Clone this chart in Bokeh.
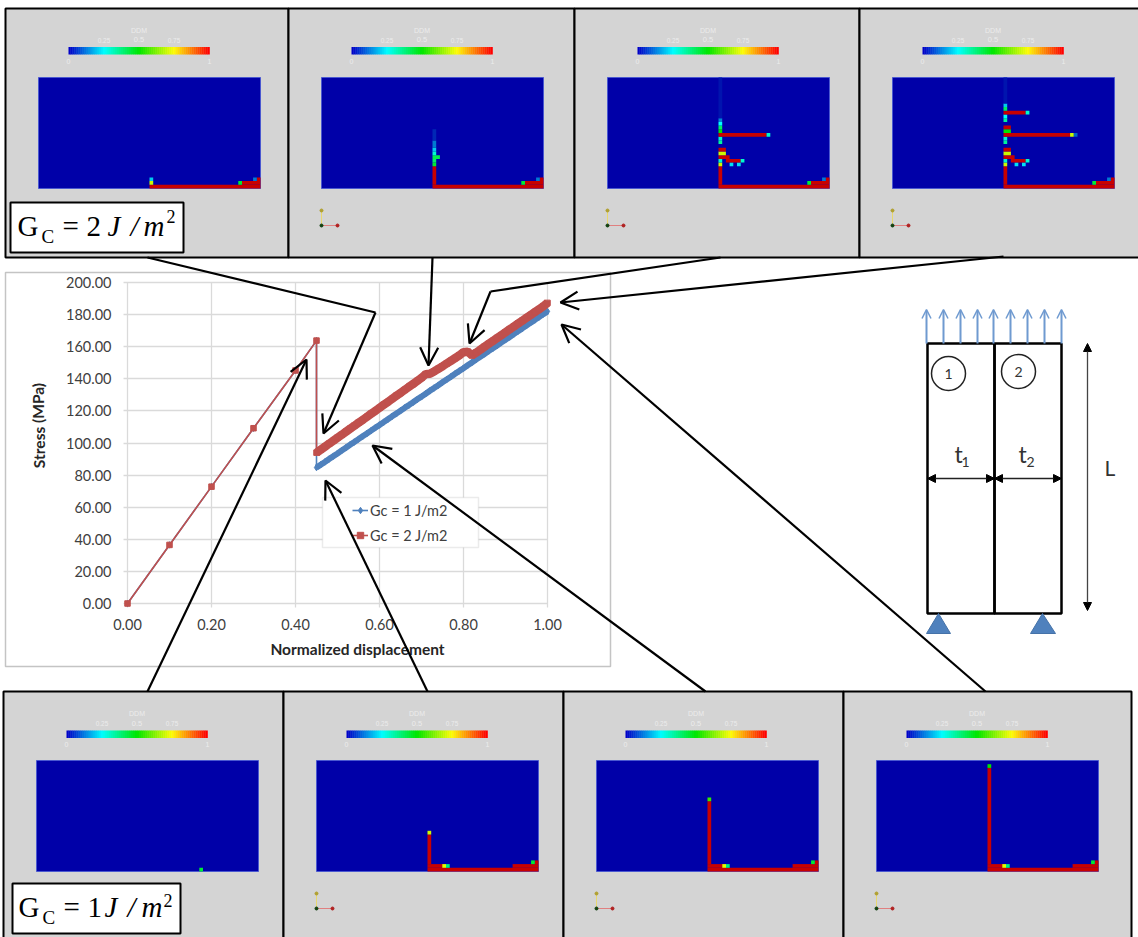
from bokeh.plotting import figure
from bokeh.embed import file_html
from bokeh.resources import INLINE
from bokeh.models import (Range1d, Arrow, OpenHead, NormalHead, Legend, LegendItem,
                          FixedTicker, NumeralTickFormatter, BoxAnnotation)
from bokeh.core.properties import value

# ---------------- chart data ----------------
x_pre = [0.00, 0.10, 0.20, 0.30, 0.40, 0.45]
y_pre = [0.00, 36.5, 72.8, 109.2, 145.2, 163.8]
x_post = [0.45, 0.46, 0.47, 0.48, 0.49, 0.50, 0.51, 0.52, 0.53, 0.54, 0.55, 0.56, 0.57, 0.58,
          0.59, 0.60, 0.61, 0.62, 0.63, 0.64, 0.65, 0.66, 0.67, 0.68, 0.69, 0.70, 0.71, 0.72,
          0.73, 0.74, 0.75, 0.76, 0.77, 0.78, 0.79, 0.80, 0.81, 0.82, 0.83, 0.84, 0.85, 0.86,
          0.87, 0.88, 0.89, 0.90, 0.91, 0.92, 0.93, 0.94, 0.95, 0.96, 0.97, 0.98, 0.99, 1.00]
gc1_post = [84.7, 86.5, 88.2, 90.0, 91.8, 93.5, 95.3, 97.1, 98.9, 100.6, 102.4, 104.2, 105.9, 107.7,
            109.5, 111.2, 113.0, 114.8, 116.6, 118.3, 120.1, 121.9, 123.6, 125.4, 127.2, 128.9, 130.7, 132.5,
            134.3, 136.0, 137.8, 139.6, 141.3, 143.1, 144.9, 146.6, 148.4, 150.2, 152.0, 153.7, 155.5, 157.3,
            159.0, 160.8, 162.6, 164.3, 166.1, 167.9, 169.7, 171.4, 173.2, 175.0, 176.7, 178.5, 180.3, 182.0]
gc2_post = [94.0, 95.8, 97.7, 99.6, 101.4, 103.3, 105.1, 107.0, 108.9, 110.7, 112.6, 114.4, 116.3, 118.2,
            120.0, 121.9, 123.8, 125.6, 127.5, 129.4, 131.2, 133.1, 135.0, 136.8, 138.7, 140.6, 142.9, 143.2,
            144.6, 146.2, 147.8, 149.5, 151.2, 152.9, 154.6, 156.6, 156.9, 154.6, 156.3, 158.1, 160.0, 161.8,
            163.6, 165.4, 167.2, 169.0, 170.8, 172.6, 174.4, 176.2, 178.0, 179.8, 181.6, 183.4, 185.2, 187.3]
x_ticks = [0.0, 0.2, 0.4, 0.6, 0.8, 1.0]
y_ticks = [0, 20, 40, 60, 80, 100, 120, 140, 160, 180, 200]
series_names = ["Gc = 1 J/m2", "Gc = 2 J/m2"]
x_title = "Normalized displacement"
y_title = "Stress (MPa)"

# ---------------- damage maps: (col0, col1, row0, row1, damage) blocks on a 60x30 grid ----------------
bottom_edge_top = [(30, 59, 0, 0, 1), (55, 59, 1, 1, 1), (54, 54, 1, 1, .45), (59, 59, 2, 2, 1), (58, 58, 2, 2, .12)]
bottom_edge_low = [(30, 59, 0, 0, 1), (30, 34, 1, 1, 1), (34, 34, 1, 1, .72), (35, 35, 1, 1, .38),
                   (53, 59, 1, 1, 1), (59, 59, 2, 2, 1), (58, 58, 2, 2, .45)]
ladder = [(30, 30, 1, 5, 1), (30, 30, 6, 6, .7), (30, 30, 7, 7, .3), (33, 33, 6, 6, .22), (35, 35, 6, 6, .22),
          (32, 35, 7, 7, 1), (36, 36, 7, 7, .3), (30, 32, 8, 8, 1), (30, 31, 9, 9, .7), (30, 31, 10, 10, 1),
          (30, 30, 12, 12, .35), (30, 30, 13, 13, .3)]
top_maps = [
    bottom_edge_top + [(30, 30, 1, 1, .7), (30, 30, 2, 2, .2)],
    bottom_edge_top + [(30, 30, 1, 5, 1), (30, 30, 6, 6, .45), (30, 30, 7, 7, .4), (30, 31, 8, 8, .42), (30, 30, 9, 9, .3),
                       (30, 30, 10, 10, .2), (30, 30, 11, 12, .12), (30, 30, 13, 15, .04)],
    bottom_edge_top + ladder + [(30, 42, 14, 14, 1), (43, 43, 14, 14, .3), (30, 30, 15, 15, .5), (30, 30, 16, 16, .4),
                                (30, 30, 17, 17, .25), (30, 30, 18, 18, .13), (30, 30, 19, 29, .02)],
    bottom_edge_top + ladder + [(30, 47, 14, 14, 1), (48, 48, 14, 14, .7), (49, 49, 14, 14, .1), (30, 31, 15, 15, .5),
                                (30, 31, 16, 16, 1), (30, 30, 18, 18, .35), (30, 30, 19, 19, .25),
                                (30, 35, 20, 20, 1), (36, 36, 20, 20, .3), (30, 30, 21, 21, .4),
                                (30, 30, 22, 22, .2), (30, 30, 23, 29, .02)],
]
low_maps = [
    [(44, 44, 0, 0, .45)],
    bottom_edge_low + [(30, 30, 2, 9, 1), (30, 30, 10, 10, .7)],
    bottom_edge_low + [(30, 30, 2, 18, 1), (30, 30, 19, 19, .55)],
    bottom_edge_low + [(30, 30, 2, 27, 1), (30, 30, 28, 28, .5)],
]
colorbar_ticks = ["0", "0.25", "0.5", "0.75", "1"]
colorbar_title = "DDM"

W, H = 1138, 937
GREY, NAVY = "#d4d4d4", "#0000a8"


def jet(d, blue=(0, 0, 200), red=(255, 0, 0)):
    stops = [blue, (0, 255, 255), (0, 230, 0), (255, 255, 0), red]
    t = min(d, .9999) * 4
    i = int(t)
    f = t - i
    a, b = stops[i], stops[i + 1]
    return "#%02x%02x%02x" % tuple(int(a[k] + (b[k] - a[k]) * f) for k in range(3))


def cell_colour(d):
    if d >= 1:
        return "#c80000"
    return jet(d, blue=(0, 0, 168))


def page_figure():
    f = figure(width=W, height=H, x_range=Range1d(0, W), y_range=Range1d(H, 0),
               x_axis_location=None, y_axis_location=None, toolbar_location=None,
               output_backend="svg", min_border=0, outline_line_color=None,
               styles={"position": "absolute", "left": "0px", "top": "0px"})
    f.grid.visible = False
    f.background_fill_color = None
    f.border_fill_color = None
    return f


# ---------------- background figure: panels, chart frame, schematic ----------------
bg = page_figure()
bg.background_fill_color = "white"
bg.border_fill_color = "white"


def label(f, x, y, text, size, color="black", font="Liberation Serif", style="normal", align="left", angle=0):
    f.text([x], [y], text=[text], text_font=value(font), text_font_size=f"{size}px", text_color=color,
           text_font_style=style, text_align=align, text_baseline="middle", angle=angle)


def panel(x0, x1, y0, y1, rect_x, rect_top, bar_x, bar_top, cells, triad):
    bg.quad(left=[x0], right=[x1], top=[y0], bottom=[y1], fill_color=GREY, line_color="black", line_width=2)
    cw = 3.7
    bg.quad(left=[rect_x], right=[rect_x + 222], top=[rect_top], bottom=[rect_top + 111],
            fill_color=NAVY, line_color="#4a58d0", line_width=1)
    L, R, T, B, C = [], [], [], [], []
    for c0, c1, r0, r1, d in cells:
        L.append(rect_x + c0 * cw)
        R.append(rect_x + (c1 + 1) * cw)
        B.append(rect_top + 111 - r0 * cw)
        T.append(rect_top + 111 - (r1 + 1) * cw)
        C.append(cell_colour(d))
    bg.quad(left=L, right=R, top=T, bottom=B, fill_color=C, line_color=None)
    n = 70
    bw = 141 / n
    bg.quad(left=[bar_x + i * bw for i in range(n)], right=[bar_x + (i + 1) * bw + .3 for i in range(n)],
            top=[bar_top] * n, bottom=[bar_top + 7.5] * n,
            fill_color=[jet(i / (n - 1)) for i in range(n)], line_color=None)
    c = "#ececec"
    mid = bar_x + 70.5
    label(bg, mid, bar_top - 17, colorbar_title, 7, c, "Liberation Sans", align="center")
    label(bg, mid - 35, bar_top - 7, colorbar_ticks[1], 6.5, c, "Liberation Sans", align="center")
    label(bg, mid, bar_top - 7.5, colorbar_ticks[2], 7.5, c, "Liberation Sans", align="center")
    label(bg, mid + 35, bar_top - 7, colorbar_ticks[3], 6.5, c, "Liberation Sans", align="center")
    label(bg, bar_x, bar_top + 14, colorbar_ticks[0], 7, c, "Liberation Sans", align="center")
    label(bg, bar_x + 141, bar_top + 14, colorbar_ticks[4], 7, c, "Liberation Sans", align="center")
    if triad:
        ox, oy = rect_x, rect_top + 148
        bg.line([ox, ox], [oy, oy - 15], line_color="#e8d870", line_width=1)
        bg.line([ox, ox + 16], [oy, oy], line_color="#e08080", line_width=1)
        bg.scatter([ox], [oy - 15], size=3, color="#b0a030")
        bg.scatter([ox + 16], [oy], size=3, color="#b02020")
        bg.scatter([ox], [oy], size=3, color="#104010")


top_x = [(5, 288, 38, 68), (288, 574, 321, 351), (574, 859, 607, 637), (859, 1139, 892, 922)]
for k, (a, b, rx, bx) in enumerate(top_x):
    panel(a, b, 8, 257, rx, 77, bx, 46.5, top_maps[k], k > 0)
low_x = [(3, 283, 36, 66), (283, 563, 316, 346), (563, 843, 596, 625), (843, 1131, 876, 906)]
for k, (a, b, rx, bx) in enumerate(low_x):
    panel(a, b, 691, 938, rx, 760, bx, 730, low_maps[k], k > 0)


def gc_box(x0, x1, y0, y1, base, num, gx, cx, ex, nx, jx, sx, mx, px, sup_y):
    bg.quad(left=[x0], right=[x1], top=[y0], bottom=[y1], fill_color="white", line_color="black", line_width=2)
    mid = base - 10.5
    label(bg, gx, mid, "G", 29)
    label(bg, cx, base, "C", 19)
    label(bg, ex, mid, "=", 29)
    label(bg, nx, mid, num, 29)
    label(bg, jx, mid, "J", 29, style="italic")
    label(bg, sx, mid, "/", 29, style="italic")
    label(bg, mx, mid, "m", 29, style="italic")
    label(bg, px, sup_y, "2", 18)


gc_box(10, 183, 202, 252, 236, "2", 17, 41, 62, 86, 107, 130, 143, 166, 216)
gc_box(12, 180, 883, 933, 917, "1", 18, 42, 63, 87, 104, 127, 141, 163, 900)

# chart frame and its titles
bg.quad(left=[5], right=[610], top=[272], bottom=[666], fill_color="white", line_color="#c4c4c4", line_width=1.5)
label(bg, 357, 648, x_title, 15.5, "#262626", "Lato", "bold", "center")
label(bg, 38, 425, y_title, 15.5, "#262626", "Lato", "bold", "center", angle=1.5708)

# schematic
SK = "black"
bg.quad(left=[927, 994], right=[994, 1061], top=[343, 343], bottom=[613, 613], fill_color=None, line_color=SK, line_width=2.5)
for ax in [926, 943, 960, 977, 993, 1010, 1027, 1044, 1061]:
    bg.add_layout(Arrow(end=OpenHead(size=9, line_color="#6f9ad0", line_width=1.5), x_start=ax, y_start=343, x_end=ax, y_end=309,
                        line_color="#6f9ad0", line_width=2))
bg.circle([948, 1018], [373, 371], radius=17, fill_color=None, line_color="#222222", line_width=1.5)
label(bg, 948, 373, "1", 14, "#333333", "Lato", align="center")
label(bg, 1018, 371, "2", 14, "#333333", "Lato", align="center")
label(bg, 954, 453, "t", 23, "#333333", "Lato")
label(bg, 961, 461, "1", 14, "#333333", "Lato")
label(bg, 1018, 453, "t", 23, "#333333", "Lato")
label(bg, 1026, 461, "2", 14, "#333333", "Lato")
label(bg, 1104, 467, "L", 21, "#333333", "Lato")
for a, b in [(927, 994), (994, 1061)]:
    bg.add_layout(Arrow(start=NormalHead(size=8, fill_color="black", line_color="black"),
                        end=NormalHead(size=8, fill_color="black", line_color="black"),
                        x_start=a, y_start=478, x_end=b, y_end=478, line_color="#222222", line_width=1.3))
bg.add_layout(Arrow(start=NormalHead(size=8, fill_color="black", line_color="black"),
                    end=NormalHead(size=8, fill_color="black", line_color="black"),
                    x_start=1087, y_start=343, x_end=1087, y_end=610, line_color="#444444", line_width=1.3))
bg.patch([938, 926, 950], [613, 633, 633], fill_color="#4f81bd", line_color="#4572a8")
bg.patch([1042, 1030, 1055], [613, 633, 633], fill_color="#4f81bd", line_color="#4572a8")

# ---------------- the chart ----------------
PADX, PADY = 8 / 420, 8 / 321 * 200
chart = figure(width=605, height=394, x_range=Range1d(-PADX, 1 + PADX), y_range=Range1d(-PADY, 200 + PADY),
               toolbar_location=None, output_backend="svg", min_border_left=114, min_border_right=55,
               min_border_top=2, min_border_bottom=55, outline_line_color=None,
               styles={"position": "absolute", "left": "5px", "top": "272px"})
chart.background_fill_color = None
chart.border_fill_color = None
chart.xgrid.ticker = FixedTicker(ticks=x_ticks)
chart.ygrid.ticker = FixedTicker(ticks=y_ticks)
chart.grid.grid_line_color = "#dadada"
chart.grid.grid_line_width = 1.3
chart.xgrid.cross_bounds = (-2.5, 200)
chart.ygrid.cross_bounds = (-0.0095, 1)
chart.xaxis.ticker = FixedTicker(ticks=x_ticks)
chart.yaxis.ticker = FixedTicker(ticks=y_ticks)
for ax in (chart.xaxis[0], chart.yaxis[0]):
    ax.formatter = NumeralTickFormatter(format="0.00")
    ax.axis_line_color = None
    ax.major_tick_line_color = None
    ax.minor_tick_line_color = None
    ax.major_label_text_font = "Lato"
    ax.major_label_text_font_size = "14.5px"
    ax.major_label_text_color = "#404040"
chart.xaxis.major_label_standoff = 1
chart.yaxis.major_label_standoff = 2

BLUE, RED = "#4f81bd", "#c0504d"
gc1_x = x_pre + x_post
gc1_y = y_pre + gc1_post
gc2_x = x_pre + x_post
gc2_y = y_pre + gc2_post
l1 = chart.line(gc1_x, gc1_y, line_color=BLUE, line_width=1.6)
chart.line(x_post, gc1_post, line_color=BLUE, line_width=6)
m1 = chart.scatter(gc1_x, gc1_y, marker="diamond", size=6.5, fill_color=BLUE, line_color=BLUE)
l2 = chart.line(gc2_x, gc2_y, line_color=RED, line_width=1.6)
chart.line(x_post, gc2_post, line_color=RED, line_width=8.5)
m2 = chart.scatter(gc2_x, gc2_y, marker="square", size=5.5, fill_color=RED, line_color=RED)
chart.add_layout(BoxAnnotation(left=317, right=473, top=225, bottom=275, left_units="canvas", right_units="canvas",
                               top_units="canvas", bottom_units="canvas", fill_color="white", fill_alpha=1,
                               line_color="#bdbdbd", line_width=1.5))
leg = Legend(items=[LegendItem(label=series_names[0], renderers=[l1, m1]),
                    LegendItem(label=series_names[1], renderers=[l2, m2])],
             location=(233, 67), background_fill_alpha=0, border_line_color=None,
             label_text_font="Lato", label_text_font_size="14.5px", label_text_color="#404040",
             glyph_width=16, glyph_height=18, label_standoff=2, spacing=7, padding=0, margin=0)
chart.add_layout(leg, "center")

# ---------------- callout arrows ----------------
over = page_figure()
callouts = [
    ([147, 375, 323], [257, 312, 433]),
    ([432, 428], [257, 365]),
    ([720, 490, 469], [257, 291, 343]),
    ([1003, 560], [256, 302]),
    ([147, 306], [691, 359]),
    ([427, 325], [691, 480]),
    ([705, 372], [691, 445]),
    ([985, 561], [691, 324]),
]
for xs, ys in callouts:
    if len(xs) > 2:
        over.line(xs[:-1], ys[:-1], line_color="black", line_width=2.2)
    over.add_layout(Arrow(end=OpenHead(size=18, line_color="black", line_width=2.2),
                          x_start=xs[-2], y_start=ys[-2], x_end=xs[-1], y_end=ys[-1],
                          line_color="black", line_width=2.2))

open("out.html", "w").write(file_html([bg, chart, over], INLINE))
